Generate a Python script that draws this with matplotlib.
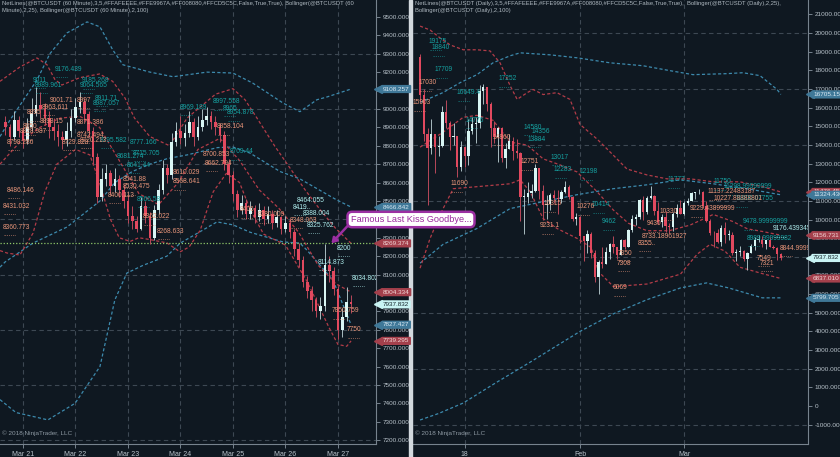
import matplotlib.pyplot as plt
import numpy as np
from matplotlib.transforms import blended_transform_factory
from matplotlib.patches import Rectangle

plt.rcParams['font.family'] = ['Liberation Sans', 'DejaVu Sans']

W, H = 840, 457
BG = '#0f1821'
UP = '#d9f6f4'
DOWN = '#e2495f'
UP_WICK = '#a9bcc0'
DOWN_WICK = '#b9485a'
RED_BAND = '#b23c48'
BLUE_BAND = '#3d8aad'
GRID = '#3d4853'
TXT = '#b8c2ca'
TEAL = '#16a0a0'
SALMON = '#e9967a'
PALE = '#afeeee'

# ---------------- 60 minute panel: 2h bars, x = hours from Mar 21 00:00 ----------------
h_start = -8
h_open0 = 8930
h_close = [8900, 8850, 8940, 8880, 8830, 8900, 8980, 9020, 9000, 8950,
           8900, 8880, 8850, 8830, 8880, 8950, 9010, 9040, 8970, 8880,
           8740, 8520, 8620, 8650, 8580, 8620, 8560, 8500, 8420, 8390,
           8350, 8470, 8420, 8300, 8450, 8560, 8680, 8640, 8820, 8880,
           8840, 8870, 8930, 8850, 8900, 8940, 8960, 8930, 8900, 8860,
           8700, 8640, 8540, 8450, 8490, 8430, 8460, 8410, 8450, 8400,
           8430, 8380, 8410, 8350, 8380, 8330, 8240, 8180, 8060, 8010,
           7960, 7900, 7930, 8150, 8120, 8020, 7800, 7870, 7950, 7938]
h_high = [8960, 8920, 8990, 8960, 8900, 8950, 9060, 9120, 9090, 9030,
          8990, 8950, 8920, 8880, 8930, 9000, 9060, 9090, 9060, 8990,
          8900, 8760, 8680, 8700, 8670, 8680, 8640, 8590, 8530, 8470,
          8420, 8520, 8500, 8440, 8480, 8590, 8720, 8700, 8870, 8930,
          8960, 8920, 8990, 8950, 8960, 9000, 9010, 8990, 8960, 8920,
          8880, 8730, 8660, 8560, 8530, 8510, 8500, 8480, 8490, 8470,
          8470, 8450, 8450, 8420, 8420, 8400, 8350, 8270, 8200, 8090,
          8040, 7980, 7980, 8265, 8200, 8140, 8040, 7920, 8030, 7990]
h_low = [8860, 8800, 8830, 8850, 8790, 8810, 8880, 8960, 8950, 8910,
         8840, 8830, 8800, 8780, 8800, 8850, 8930, 8980, 8930, 8850,
         8700, 8490, 8500, 8580, 8540, 8550, 8520, 8460, 8380, 8350,
         8330, 8340, 8380, 8268, 8290, 8430, 8540, 8600, 8620, 8800,
         8810, 8800, 8850, 8800, 8830, 8880, 8910, 8890, 8860, 8820,
         8670, 8600, 8500, 8410, 8430, 8400, 8400, 8380, 8390, 8370,
         8380, 8350, 8360, 8320, 8330, 8300, 8200, 8140, 8030, 7970,
         7900, 7870, 7860, 7900, 8060, 7990, 7750, 7760, 7850, 7890]
h_ticks = [0, 24, 48, 72, 96, 120, 144]
h_ticklabels = ['Mar 21', 'Mar 22', 'Mar 23', 'Mar 24', 'Mar 25', 'Mar 26', 'Mar 27']
h_gridlevels = [7200, 7500, 7800, 8100, 8400, 8700, 9000, 9300]

# Bollinger (25) waypoints
h_b25_up_x = [-10.5, -1.4, 6.4, 11, 14.6, 17.8, 26, 35, 41, 46.6, 51, 58, 67, 75, 81, 88, 96,
              101.5, 107, 115, 122, 129, 136, 143, 150]
h_b25_up = [9150, 9228, 9277, 9240, 9160, 9130, 9170, 9190, 9150, 9060, 8950, 8850, 8800, 8950,
            9010, 9080, 9110, 9050, 8950, 8800, 8680, 8560, 8450, 8350, 8269.374]
h_b25_mid_x = [-10.5, -1.4, 7.8, 17, 26, 35, 44, 53, 62, 71, 80, 90, 99, 108, 117, 126, 135, 143, 150]
h_b25_mid = [8700, 8820, 8900, 8950, 8960, 8900, 8720, 8540, 8480, 8600, 8780, 8840, 8720, 8560,
             8460, 8330, 8150, 8050, 8004.334]
h_b25_lo_x = [-10.5, -7.3, -1.4, 4.6, 10, 15.5, 24, 30.6, 35, 40, 44, 49, 53, 58, 65.8, 71.8, 76,
              81, 87, 93, 99, 104, 110, 120, 130, 136, 140, 144, 148, 150]
h_b25_lo = [8230, 8217, 8206, 8325, 8550, 8700, 8780, 8750, 8600, 8400, 8300, 8280, 8300, 8290,
            8272, 8223, 8250, 8340, 8550, 8650, 8600, 8450, 8320, 8260, 8060, 7910, 7810, 7720,
            7710, 7739.295]
# Bollinger (100) waypoints
h_b100_up_x = [-10.5, -5.9, 6.4, 12.3, 20.1, 29.3, 35.2, 41.1, 45.7, 58.1, 68.6, 84.1, 96, 105.1,
               118.9, 126.6, 134.4, 139, 150]
h_b100_up = [8850, 8940, 9157, 9300, 9413, 9473, 9446, 9320, 9240, 9200, 9175, 9200, 9195, 9140,
             9032, 8985, 9050, 9065, 9108.257]
h_b100_mid_x = [-10.5, -8.2, 4.6, 20.1, 35.2, 42, 50, 58, 66, 75, 89, 96, 103.8, 117.5, 126.6,
                143.5, 150]
h_b100_mid = [8140, 8168, 8271, 8358, 8500, 8600, 8660, 8700, 8730, 8750, 8790, 8793, 8760, 8660,
              8620, 8505, 8466.842]
h_b100_lo_x = [-10.5, -3.2, 11.4, 23.8, 35.2, 42, 47.5, 54.9, 65.8, 71.8, 88.7, 96, 103.8, 118.9,
               126.6, 129.8, 141.7, 150]
h_b100_lo = [7420, 7350, 7310, 7400, 7600, 7962, 8108, 8150, 8200, 8270, 8386, 8370, 8330, 8277,
             8271, 8233, 8070, 7827.427]

h_hline = 8269.374
h_flags = [9108.257, 8466.842, 8269.374, 8004.334, 7937.832, 7827.427, 7739.295]
h_flag_kind = ['b', 'b', 'r', 'r', 'c', 'b', 'r']

h_teal = [(14.6, 9217, '9176.439'), (4.6, 9157, '9011'), (5.5, 9130, '8989.961'),
          (27, 9152, '9185.268'), (26, 9130, '9064.565'), (33, 9059, '8911.71'),
          (32, 9032, '8987.057'), (71.8, 9010, '8969.189'), (86.9, 9038, '8997.558'),
          (91.4, 9005, '8965'), (93.3, 8978, '8954.878'), (35.2, 8831, '8795.582'),
          (48.9, 8820, '8777.166'), (50.3, 8760, '8715.705'), (43, 8739, '8681.274'),
          (47.5, 8695, '8641.44'), (52, 8510, '8566.58'), (94.6, 8766, '8709.44')]
h_pale = [(125.3, 8505, '8464.055'), (123.4, 8467, '8419'), (128, 8434, '8388.004'),
          (129.8, 8369, '8325.762'), (143.5, 8244, '8200'), (134.9, 8168, '8114.873'),
          (150.4, 8081, '8034.802')]
h_salmon = [(141.3, 7902, '7850.759'), (148, 7799, '7750'), (12.3, 9048, '9001.71'),
            (8.7, 9010, '8963.611'), (24.7, 9048, '8997'), (1.8, 8978, '8895'),
            (0, 8902, '8850'), (7.8, 8929, '8898.15'), (-1.4, 8875, '8828.987'),
            (24.7, 8924, '8871.386'), (-7.3, 8820, '8798.286'), (24.7, 8858, '8742.494'),
            (26, 8831, '8720.213'), (17.8, 8820, '8729.828'), (88.7, 8902, '8858.104'),
            (82.3, 8750, '8700.853'), (83.2, 8706, '8662.794'), (68.6, 8657, '8610.029'),
            (68.6, 8603, '8568.641'), (45.7, 8614, '8541.88'), (45.7, 8576, '8530.475'),
            (38.9, 8532, '8400.113'), (54.9, 8413, '8362.022'), (61.3, 8336, '8268.633'),
            (-7.3, 8559, '8486.146'), (-9.1, 8472, '8431.032'), (-9.1, 8358, '8360.773'),
            (99.2, 8451, '8406'), (107.4, 8424, '8380.009'), (122, 8396, '8348.063')]

# ---------------- Daily panel: x = days from Dec 20 2017 ----------------
d_open0 = 18700
d_close = [16700, 14600, 13850, 14600, 13900, 13950, 15750, 15200, 14400, 14500,
           12800, 13900, 13400, 14750, 15100, 15150, 16900, 17100, 16200, 14900,
           14400, 14900, 13300, 13800, 14200, 13650, 13550, 11200, 11200, 11400,
           11550, 12750, 11550, 10800, 10850, 11300, 11150, 11100, 11450, 11750,
           11200, 10050, 10150, 9100, 8850, 9200, 8200, 6900, 7700, 7600,
           8250, 8700, 8550, 8100, 8900, 8550, 9450, 10050, 10150, 11050,
           10400, 11150, 11250, 10450, 9850, 10150, 9650, 9600, 10300, 10600,
           10300, 10900, 11000, 11400, 11450, 11450, 10700, 9900, 9300, 9250,
           8800, 9550, 9150, 9150, 8200, 8250, 8300, 7900, 8200, 8600,
           8900, 8900, 8700, 8900, 8550, 8450, 8150, 7938]
d_high = [18900, 17000, 14900, 15400, 14400, 14500, 16100, 16400, 15300, 15200,
          14500, 14200, 13900, 15400, 15500, 15500, 17200, 17250, 17100, 16300,
          15300, 14950, 14950, 14100, 14600, 14400, 14300, 13600, 11650, 12000,
          11900, 12950, 12750, 11850, 11300, 11400, 11600, 11600, 11600, 12050,
          11850, 11250, 10350, 10200, 9100, 9450, 9350, 8350, 7850, 8550,
          8550, 8750, 9100, 8550, 8980, 8950, 9500, 10250, 10300, 11100,
          11250, 11250, 11800, 11300, 10950, 10300, 10450, 9800, 10400, 10850,
          11050, 11000, 11150, 11500, 11500, 11650, 11550, 11000, 10050, 9400,
          9500, 9700, 9850, 9450, 9350, 8400, 8600, 8350, 8250, 8700,
          9050, 9150, 9100, 8920, 9050, 8650, 8530, 8200]
d_low = [16300, 14200, 10800, 13500, 12500, 13400, 13900, 14900, 13700, 14000,
         12300, 12600, 12800, 12900, 14600, 14100, 14900, 16200, 15800, 13900,
         14100, 13100, 13100, 12750, 13900, 13200, 13300, 9900, 9200, 10900,
         11150, 11500, 11100, 10000, 10050, 10500, 10900, 10300, 10900, 11400,
         11100, 9900, 9700, 8750, 7800, 8200, 7950, 6650, 6000, 7400,
         7600, 7900, 8200, 7900, 8100, 8400, 8550, 9350, 9700, 10050,
         10000, 10300, 11100, 10250, 9750, 9600, 9350, 9300, 9400, 10150,
         10300, 10250, 10800, 11000, 11100, 11350, 10600, 9850, 9150, 8500,
         8750, 8600, 8750, 8900, 8100, 7750, 8050, 7800, 7300, 8200,
         8350, 8800, 8550, 8400, 8500, 8400, 7850, 7840]
d_ticks = [12, 43, 71]
d_ticklabels = ['18', 'Feb', 'Mar']
d_gridlevels = [-1000, 2000, 5000, 8000, 11000, 14000, 17000, 20000]

d_b25_up_x = [0, 2.7, 5.4, 8.1, 11.6, 15.3, 18.8, 21.5, 24.2, 26.1, 28.8, 30.4, 33.1, 36.8, 40.3,
              43, 47.6, 51.9, 55.6, 61, 66.4, 72.6, 78.8, 86, 92.2, 97]
d_b25_up = [20370, 20160, 19730, 19360, 19100, 19100, 19040, 18400, 17180, 16440, 16800, 16970,
            16700, 16800, 16440, 15100, 14310, 13460, 12710, 12390, 12180, 12180, 12020, 12020,
            11750, 11476.453]
d_b25_mid_x = [0, 6.2, 11.6, 15.3, 19.6, 24.2, 28.8, 33.1, 37.6, 42.2, 47.6, 52, 56, 61, 67, 72.6,
               78.8, 84, 88, 92, 97]
d_b25_mid = [13880, 14680, 15480, 15585, 15320, 14150, 13990, 13250, 12930, 12550, 11490, 10500,
             9800, 9400, 9400, 9700, 10270, 9900, 9500, 9360, 9156.731]
d_b25_lo_x = [0, 2.7, 5.4, 8.9, 15.3, 24.2, 26.9, 29.6, 33.1, 36.8, 42.2, 46, 48, 52, 61, 70,
              74.5, 78, 82, 86, 92, 97]
d_b25_lo = [7390, 8990, 10270, 11650, 11760, 11915, 12130, 11490, 10050, 9520, 8990, 8500, 7200,
            6400, 6540, 7070, 8140, 8670, 8300, 7440, 7100, 6837.010]
d_b100_up_x = [0, 6.2, 10.8, 15.3, 19.6, 24.2, 26.9, 34.9, 42.2, 51.1, 59.9, 67.2, 73.4, 82.5,
               86.8, 91.4, 96, 97]
d_b100_up = [16277, 16809, 17340, 17766, 18400, 18777, 18936, 18830, 18670, 18400, 18245, 17980,
             17766, 17820, 17870, 17713, 16968, 16705.150]
d_b100_mid_x = [0, 6.2, 15.3, 24.2, 33.1, 42.2, 51.9, 61, 69.9, 78.8, 87.9, 97]
d_b100_mid = [7660, 8670, 9520, 10585, 10957, 11330, 11650, 11860, 12128, 11915, 11650, 11324.430]
d_b100_lo_x = [0, 5, 11.6, 20, 30, 43, 52, 61, 70, 77, 83, 92, 97]
d_b100_lo = [-750, -400, 160, 1200, 2400, 4000, 4946, 5700, 6330, 6600, 6330, 5800, 5799.705]

d_flags = [16705.150, 11476.453, 11324.430, 9156.731, 7937.832, 6837.010, 5799.705]
d_flag_kind = ['b', 'r', 'b', 'r', 'c', 'r', 'b']

d_teal = [(2.2, 19521, '19175'), (3.2, 19202, '18840'), (4.0, 18032, '17709'),
          (21, 17553, '17252'), (9.9, 16809, '16649.4'), (12.1, 15319, '14776'),
          (27.7, 14947, '14580'), (30.1, 14734, '14356'), (29, 14309, '13884'),
          (35, 13351, '13017'), (35.8, 12660, '12283'), (43, 12553, '12198'),
          (46.2, 10798, '10414'), (48.9, 9894, '9462'), (66.4, 12128, '11777'),
          (78.8, 12021, '11750'), (81.5, 11755, '11298.99999999'), (84.7, 11117, '11000.07755'),
          (86.8, 9894, '9478.99999999'), (87.9, 8989, '8989.99999982')]
d_pale = [(94.9, 9521, '9176.439345')]
d_salmon = [(-0.5, 17340, '17030'), (-1.9, 16277, '15903'), (19.4, 14415, '14860'),
            (26.9, 13085, '12751'), (8.1, 11915, '11690'), (33.1, 10851, '10315'),
            (42.2, 10691, '10276'), (32.3, 9681, '9231.1'), (77.2, 11489, '11137.22483187'),
            (78.8, 11117, '10227.88888801'), (64.5, 10426, '10330'), (61, 9787, '9430'),
            (72.6, 10585, '9229.43899999'), (59.7, 9096, '8733.18961927'), (58.6, 8723, '8355'),
            (53.2, 8191, '7850'), (53, 7660, '7308'), (51.9, 6330, '6069'),
            (90.6, 7925, '7549'), (91.4, 7660, '7321'), (96.8, 8457, '8844.99999999')]

left_title = ('NetLines(@BTCUSDT (60 Minute),3,5,#FFAFEEEE,#FFE9967A,#FF008080,#FFCD5C5C,False,True,True), '
              'Bollinger(@BTCUSDT (60\nMinute),2,25), Bollinger(@BTCUSDT (60 Minute),2,100)')
right_title = ('NetLines(@BTCUSDT (Daily),3,5,#FFAFEEEE,#FFE9967A,#FF008080,#FFCD5C5C,False,True,True),  '
               'Bollinger(@BTCUSDT (Daily),2,25),\nBollinger(@BTCUSDT (Daily),2,100)')
note_text = 'Famous Last Kiss Goodbye...'
note_target = (141, 8269.374)


def px_axes(fig, x0, x1, y0, y1):
    return fig.add_axes([x0 / W, 1 - y1 / H, (x1 - x0) / W, (y1 - y0) / H])


def style_axes(ax, xlim, ylim, yticks, fmt, xticks, xlabels, glevels, title):
    ax.set_facecolor(BG)
    ax.set_xlim(*xlim)
    ax.set_ylim(*ylim)
    for s in ['top', 'left']:
        ax.spines[s].set_visible(False)
    for s in ['right', 'bottom']:
        ax.spines[s].set_color('#77838e')
        ax.spines[s].set_linewidth(0.8)
    ax.yaxis.tick_right()
    ax.set_yticks(yticks)
    ax.set_yticklabels([fmt(v) for v in yticks])
    ax.set_xticks(xticks)
    ax.set_xticklabels(xlabels)
    ax.tick_params(colors='#77838e', labelcolor=TXT, labelsize=4.6, length=3, width=0.7, pad=2)
    ax.tick_params(axis='x', labelsize=5)
    for g in glevels:
        ax.axhline(g, color=GRID, lw=0.8, ls=(0, (4, 3)), zorder=1)
    for t in xticks:
        ax.axvline(t, color=GRID, lw=0.8, ls=(0, (4, 3)), zorder=1)
    ax.text(0.004, 0.997, title, transform=ax.transAxes, ha='left', va='top', fontsize=4.2,
            color='#aeb8c0', linespacing=1.35, zorder=12)
    ax.text(0.004, 0.017, '\u00a9 2018 NinjaTrader, LLC', transform=ax.transAxes, ha='left',
            va='bottom', fontsize=4.6, color='#8d98a2', zorder=12)


def candles(ax, x, o0, c, hi, lo, width):
    c = np.asarray(c, float)
    o = np.concatenate([[o0], c[:-1]])
    hi = np.maximum(np.asarray(hi, float), np.maximum(o, c))
    lo = np.minimum(np.asarray(lo, float), np.minimum(o, c))
    up = c >= o
    ax.vlines(x, lo, hi, colors=np.where(up, UP_WICK, DOWN_WICK), lw=0.7, zorder=3)
    body = np.maximum(np.abs(c - o), (ax.get_ylim()[1] - ax.get_ylim()[0]) * 0.002)
    ax.bar(x, body, width, bottom=np.minimum(o, c), color=np.where(up, UP, DOWN), lw=0, zorder=4)


def band(ax, x, y, color):
    ax.plot(x, y, color=color, lw=0.9, ls=(0, (2.5, 1.8)), zorder=2)


def netlabels(ax, items, color):
    for x, y, t in items:
        ax.text(x, y, t, color=color, fontsize=4.8, ha='left', va='center', zorder=6, clip_on=True)
        ax.annotate('.......', (x, y), xytext=(0.5, -5.5), textcoords='offset points', color=color,
                    fontsize=4.8, ha='left', va='center', zorder=6, annotation_clip=True)


def flags(ax, values, kinds, xoff):
    tr = blended_transform_factory(ax.transAxes, ax.transData)
    style = {'b': ('#3f7898', '#d8e8f2'), 'r': ('#a4404c', '#f2d8d8'), 'c': ('#c9f4f4', '#16262c')}
    for v, k in zip(values, kinds):
        fc, tc = style[k]
        ax.plot([1 + xoff * 0.35], [v], marker='<', ms=5.5, color=fc, ls='none', transform=tr,
                clip_on=False, zorder=11)
        ax.text(1 + xoff, v, f'{v:.3f}', transform=tr, fontsize=4.6, color=tc, ha='left', va='center',
                bbox=dict(boxstyle='round,pad=0.25,rounding_size=0.15', fc=fc, ec='none'),
                clip_on=False, zorder=11)


fig = plt.figure(figsize=(W / 100, H / 100), dpi=100, facecolor=BG)

# ---- left: 60 minute ----
ax1 = px_axes(fig, 0, 376, 0, 444)
ax1.set_zorder(3)
style_axes(ax1, (-10.5, 161.4), (7179, 9592), np.arange(7200, 9600, 100),
           lambda v: f'{v:.3f}', h_ticks, h_ticklabels, h_gridlevels, left_title)
hx = h_start + 2 * np.arange(len(h_close))
band(ax1, h_b100_up_x, h_b100_up, BLUE_BAND)
band(ax1, h_b100_mid_x, h_b100_mid, BLUE_BAND)
band(ax1, h_b100_lo_x, h_b100_lo, BLUE_BAND)
band(ax1, h_b25_up_x, h_b25_up, RED_BAND)
band(ax1, h_b25_mid_x, h_b25_mid, RED_BAND)
band(ax1, h_b25_lo_x, h_b25_lo, RED_BAND)
ax1.axhline(h_hline, color='#8fc86a', lw=0.9, ls=(0, (1, 1.5)), zorder=2)
candles(ax1, hx, h_open0, h_close, h_high, h_low, 1.2)
netlabels(ax1, h_teal, TEAL)
netlabels(ax1, h_salmon, SALMON)
netlabels(ax1, h_pale, PALE)
flags(ax1, h_flags, h_flag_kind, 7 / 376)

# ---- right: daily ----
ax2 = px_axes(fig, 413, 808, 0, 444)
ax2.set_zorder(1)
style_axes(ax2, (-1.9, 104.3), (-2037, 21769), np.arange(-1000, 21001, 1000),
           lambda v: '0' if v == 0 else f'{v:.3f}', d_ticks, d_ticklabels, d_gridlevels, right_title)
dx = np.arange(len(d_close))
band(ax2, d_b100_up_x, d_b100_up, BLUE_BAND)
band(ax2, d_b100_mid_x, d_b100_mid, BLUE_BAND)
band(ax2, d_b100_lo_x, d_b100_lo, BLUE_BAND)
band(ax2, d_b25_up_x, d_b25_up, RED_BAND)
band(ax2, d_b25_mid_x, d_b25_mid, RED_BAND)
band(ax2, d_b25_lo_x, d_b25_lo, RED_BAND)
candles(ax2, dx, d_open0, d_close, d_high, d_low, 0.62)
netlabels(ax2, d_teal, TEAL)
netlabels(ax2, d_salmon, SALMON)
netlabels(ax2, d_pale, PALE)
flags(ax2, d_flags, d_flag_kind, 5 / 395)

# separator between the two chart panels
fig.add_artist(Rectangle((409 / W, 0), 3 / W, 1, transform=fig.transFigure, color='#d3d9de', zorder=2))

ax1.annotate(note_text, xy=note_target, xycoords='data', xytext=(411 / W, 1 - 219.5 / H),
             textcoords='figure fraction', ha='center', va='center', fontsize=6.6, color='#9a2a9e',
             bbox=dict(boxstyle='round,pad=0.35,rounding_size=0.5', fc='white', ec='#9b2fa2', lw=1.8),
             arrowprops=dict(arrowstyle='-|>,head_length=0.45,head_width=0.28', color='#9b2fa2',
                             lw=1.8, shrinkA=0, shrinkB=0, relpos=(0.0, 0.15)),
             annotation_clip=False, zorder=30)

fig.savefig('out.png', dpi=100, facecolor=BG)
